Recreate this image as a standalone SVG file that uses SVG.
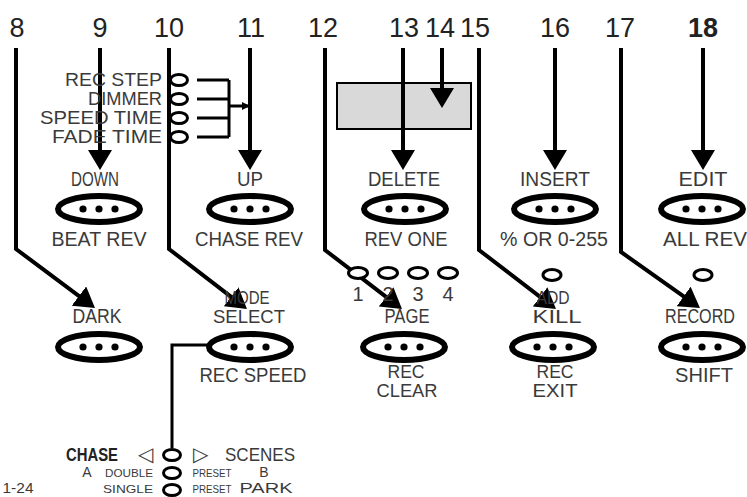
<svg xmlns="http://www.w3.org/2000/svg" width="747" height="497" viewBox="0 0 747 497">
<style>
.num{font-family:"Liberation Sans",Arial,sans-serif;font-size:27px;fill:#222;text-anchor:middle}
.lbl{font-family:"Liberation Sans",Arial,sans-serif;font-size:20px;fill:#3a3a3a;text-anchor:middle}
.st{font-size:18px}
.lblr{font-family:"Liberation Sans",Arial,sans-serif;font-size:18px;fill:#3a3a3a;text-anchor:end}
.sm{font-family:"Liberation Sans",Arial,sans-serif;font-size:11px;fill:#3a3a3a;text-anchor:middle}
.mid{font-family:"Liberation Sans",Arial,sans-serif;font-size:14px;fill:#3a3a3a;text-anchor:middle}
.big{font-family:"Liberation Sans",Arial,sans-serif;font-size:18px;fill:#222;text-anchor:middle}
.btn{fill:#fff;stroke:#000;stroke-width:6}
.dot{fill:#000}
.led{fill:#fff;stroke:#000;stroke-width:3}
.ln{fill:none;stroke:#000;stroke-width:4}
.thin{fill:none;stroke:#000;stroke-width:3}
</style>
<defs>
<marker id="ah" viewBox="0 0 20 24" refX="16" refY="12" markerWidth="20" markerHeight="24" markerUnits="userSpaceOnUse" orient="auto"><path d="M0,0 L20,12 L0,24 z" fill="#000"/></marker>
<marker id="ahs" viewBox="0 0 8 8" refX="7" refY="4" markerWidth="8" markerHeight="8" markerUnits="userSpaceOnUse" orient="auto"><path d="M0,0 L8,4 L0,8 z" fill="#000"/></marker>
<g id="btnshape"><ellipse cx="0" cy="0" rx="41" ry="13" class="btn"/><circle cx="-16" cy="0" r="3.6" class="dot"/><circle cx="0" cy="0" r="3.6" class="dot"/><circle cx="16" cy="0" r="3.6" class="dot"/></g>
</defs>
<rect width="747" height="497" fill="#fff"/>

<g id="display"><rect x="337" y="83" width="134" height="46" fill="#d9d9d9" stroke="#000" stroke-width="2"/></g>

<g id="numbers">
<text class="num" x="17" y="37">8</text>
<text class="num" x="100" y="37">9</text>
<text class="num" x="169" y="37">10</text>
<text class="num" x="251" y="37">11</text>
<text class="num" x="323" y="37">12</text>
<text class="num" x="404" y="37">13</text>
<text class="num" x="440" y="37">14</text>
<text class="num" x="475" y="37">15</text>
<text class="num" x="555" y="37">16</text>
<text class="num" x="620" y="37">17</text>
<text class="num" x="703" y="37" font-weight="bold">18</text>
</g>

<g id="connectors">
<polyline class="ln" points="16,48 16,249 91.8,305.6" marker-end="url(#ah)"/>
<line class="ln" x1="100" y1="48" x2="100" y2="166" marker-end="url(#ah)"/>
<polyline class="ln" points="169,48 169,249 243.8,306.6" marker-end="url(#ah)"/>
<line class="ln" x1="250" y1="48" x2="250" y2="166" marker-end="url(#ah)"/>
<polyline class="ln" points="325,48 325,250 398.8,306.6" marker-end="url(#ah)"/>
<line class="ln" x1="403" y1="48" x2="403" y2="166" marker-end="url(#ah)"/>
<line class="ln" x1="442" y1="48" x2="442" y2="104" marker-end="url(#ah)"/>
<polyline class="ln" points="479,48 479,250 552.8,306.6" marker-end="url(#ah)"/>
<line class="ln" x1="555" y1="48" x2="555" y2="166" marker-end="url(#ah)"/>
<polyline class="ln" points="621,48 621,252 696.7,305.7" marker-end="url(#ah)"/>
<line class="ln" x1="703" y1="48" x2="703" y2="166" marker-end="url(#ah)"/>
<path class="thin" d="M197,80 H229 M197,99 H229 M197,118 H229 M197,137 H229 M229,80 V137"/>
<line class="thin" x1="229" y1="106" x2="249" y2="106" marker-end="url(#ahs)"/>
<polyline class="thin" points="208,345 172,345 172,448"/>
</g>

<g id="leds-left">
<text class="lblr" x="162" y="86" textLength="97" lengthAdjust="spacingAndGlyphs">REC STEP</text>
<text class="lblr" x="162" y="105" textLength="74" lengthAdjust="spacingAndGlyphs">DIMMER</text>
<text class="lblr" x="162" y="124" textLength="122" lengthAdjust="spacingAndGlyphs">SPEED TIME</text>
<text class="lblr" x="162" y="143" textLength="110" lengthAdjust="spacingAndGlyphs">FADE TIME</text>
<ellipse class="led" cx="179" cy="80" rx="8.5" ry="5.5"/>
<ellipse class="led" cx="179" cy="99" rx="8.5" ry="5.5"/>
<ellipse class="led" cx="179" cy="118" rx="8.5" ry="5.5"/>
<ellipse class="led" cx="179" cy="137" rx="8.5" ry="5.5"/>
</g>

<g id="btn-down">
<text class="lbl" x="95" y="186" textLength="48" lengthAdjust="spacingAndGlyphs">DOWN</text>
<use href="#btnshape" x="99" y="209"/>
<text class="lbl" x="99" y="246" textLength="95" lengthAdjust="spacingAndGlyphs">BEAT REV</text>
</g>
<g id="btn-up">
<text class="lbl" x="250" y="186" textLength="26" lengthAdjust="spacingAndGlyphs">UP</text>
<use href="#btnshape" x="250" y="209"/>
<text class="lbl" x="249" y="246" textLength="108" lengthAdjust="spacingAndGlyphs">CHASE REV</text>
</g>
<g id="btn-delete">
<text class="lbl" x="404" y="186" textLength="72" lengthAdjust="spacingAndGlyphs">DELETE</text>
<use href="#btnshape" x="405" y="209"/>
<text class="lbl" x="406" y="246" textLength="83" lengthAdjust="spacingAndGlyphs">REV ONE</text>
</g>
<g id="btn-insert">
<text class="lbl" x="555" y="186" textLength="70" lengthAdjust="spacingAndGlyphs">INSERT</text>
<use href="#btnshape" x="555" y="209"/>
<text class="lbl" x="554" y="246" textLength="108" lengthAdjust="spacingAndGlyphs">% OR 0-255</text>
</g>
<g id="btn-edit">
<text class="lbl" x="703" y="186" textLength="49" lengthAdjust="spacingAndGlyphs">EDIT</text>
<use href="#btnshape" x="702" y="209"/>
<text class="lbl" x="705" y="246" textLength="84" lengthAdjust="spacingAndGlyphs">ALL REV</text>
</g>

<g id="page-leds">
<ellipse class="led" cx="358" cy="273" rx="9.5" ry="5.5"/>
<ellipse class="led" cx="388" cy="273" rx="9.5" ry="5.5"/>
<ellipse class="led" cx="418" cy="273" rx="9.5" ry="5.5"/>
<ellipse class="led" cx="448" cy="273" rx="9.5" ry="5.5"/>
<text class="lbl" x="358" y="301" font-size="17">1</text>
<text class="lbl" x="388" y="301" font-size="17">2</text>
<text class="lbl" x="418" y="301" font-size="17">3</text>
<text class="lbl" x="448" y="301" font-size="17">4</text>
</g>
<g id="led-add"><ellipse class="led" cx="552" cy="275" rx="9" ry="5.5"/></g>
<g id="led-record"><ellipse class="led" cx="703" cy="275" rx="9" ry="5.5"/></g>

<g id="btn-dark">
<text class="lbl" x="97" y="323" textLength="49" lengthAdjust="spacingAndGlyphs">DARK</text>
<use href="#btnshape" x="99" y="347"/>
</g>
<g id="btn-mode">
<text class="lbl st" x="247" y="304" textLength="45" lengthAdjust="spacingAndGlyphs">MODE</text>
<text class="lbl st" x="249" y="323" textLength="72" lengthAdjust="spacingAndGlyphs">SELECT</text>
<use href="#btnshape" x="250" y="347"/>
<text class="lbl" x="253" y="382" textLength="107" lengthAdjust="spacingAndGlyphs">REC SPEED</text>
</g>
<g id="btn-page">
<text class="lbl" x="407" y="323" textLength="45" lengthAdjust="spacingAndGlyphs">PAGE</text>
<use href="#btnshape" x="404" y="347"/>
<text class="lbl st" x="406" y="378" textLength="37" lengthAdjust="spacingAndGlyphs">REC</text>
<text class="lbl st" x="407" y="397" textLength="61" lengthAdjust="spacingAndGlyphs">CLEAR</text>
</g>
<g id="btn-kill">
<text class="lbl st" x="553" y="304" textLength="33" lengthAdjust="spacingAndGlyphs">ADD</text>
<text class="lbl st" x="557" y="323" textLength="49" lengthAdjust="spacingAndGlyphs">KILL</text>
<use href="#btnshape" x="553" y="347"/>
<text class="lbl st" x="555" y="378" textLength="37" lengthAdjust="spacingAndGlyphs">REC</text>
<text class="lbl st" x="555" y="397" textLength="45" lengthAdjust="spacingAndGlyphs">EXIT</text>
</g>
<g id="btn-record">
<text class="lbl" x="700" y="323" textLength="70" lengthAdjust="spacingAndGlyphs">RECORD</text>
<use href="#btnshape" x="702" y="347"/>
<text class="lbl" x="704" y="382" textLength="58" lengthAdjust="spacingAndGlyphs">SHIFT</text>
</g>

<g id="mode-leds">
<ellipse class="led" cx="172" cy="455" rx="8.5" ry="5.5"/>
<ellipse class="led" cx="172" cy="473" rx="8.5" ry="5.5"/>
<ellipse class="led" cx="172" cy="490" rx="8.5" ry="5.5"/>
<text class="big" x="92" y="461" font-weight="bold" textLength="52" lengthAdjust="spacingAndGlyphs">CHASE</text>
<text class="lbl" x="145" y="461" font-size="17">◁</text>
<text class="lbl" x="200" y="461" font-size="17">▷</text>
<text class="lbl st" x="260" y="461" textLength="70" lengthAdjust="spacingAndGlyphs">SCENES</text>
<text class="mid" x="87" y="477">A</text>
<text class="sm" x="129" y="477" textLength="48" lengthAdjust="spacingAndGlyphs">DOUBLE</text>
<text class="sm" x="212" y="477" textLength="39" lengthAdjust="spacingAndGlyphs">PRESET</text>
<text class="mid" x="264" y="477">B</text>
<text class="mid" x="18" y="493" textLength="31" lengthAdjust="spacingAndGlyphs">1-24</text>
<text class="sm" x="128" y="493" textLength="50" lengthAdjust="spacingAndGlyphs">SINGLE</text>
<text class="sm" x="212" y="493" textLength="39" lengthAdjust="spacingAndGlyphs">PRESET</text>
<text class="mid" x="266" y="493" textLength="53" lengthAdjust="spacingAndGlyphs">PARK</text>
</g>
</svg>
